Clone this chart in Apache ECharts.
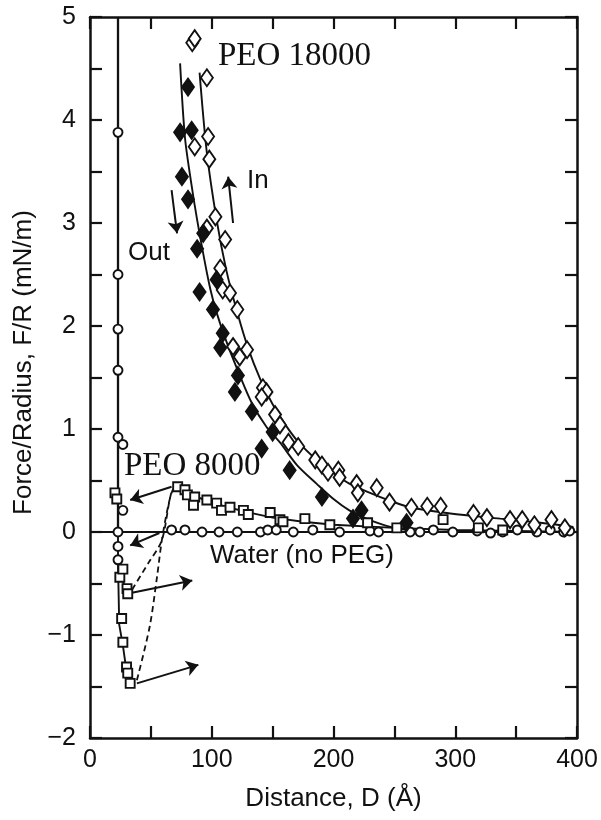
<!DOCTYPE html>
<html><head><meta charset="utf-8">
<script src="https://cdn.jsdelivr.net/npm/echarts@6/dist/echarts.min.js"></script>
<style>html,body{margin:0;padding:0;background:#fff}#c{width:601px;height:820px}</style>
</head><body><div id="c"></div>
<script>
// ---- data: [D (Å), F/R (mN/m)] ----
const xTicks = [0, 100, 200, 300, 400];
const yTicks = [-2, -1, 0, 1, 2, 3, 4, 5];

const waterPts = [[23,3.88],[23,2.5],[23,1.97],[23,1.57],[23,0.92],[27,0.85],[27,0.21],[23,0],[23,-0.14],[23,-0.27],
  [67,0.02],[78,0.02],[92,0.0],[106,0.0],[121,0.0],[140,0.0],[146,0.02],[153,0.02],[167,0.0],[183,0.02],[205,0.0],
  [230,0.01],[237,0.0],[263,0.0],[271,0.0],[282,0.02],[298,0.0],[318,0.01],[329,-0.01],[339,0.0],[351,0.02],
  [367,0.0],[378,0.02],[389,0.0],[394,0.01]];
const waterWall = [[23,5],[23,0]];
const waterFlat = [[0,0],[400,0]];

const peo8000Pts = [[20.5,0.38],[22,0.32],[24.5,-0.44],[27,-0.36],[30.4,-0.55],[31,-0.6],[26,-0.84],[27,-1.07],
  [30,-1.31],[31,-1.37],[33,-1.47],[72,0.44],[78,0.41],[80,0.36],[86,0.34],[85,0.26],[96,0.31],[104,0.28],[108,0.21],
  [115,0.24],[126,0.21],[130,0.17],[148,0.19],[156,0.12],[158.5,0.1],[176.5,0.13],[197,0.07],[228,0.09],[252,0.04],
  [290,0.12],[319,0.04],[339,0.02]];
const peo8000Line = [[72,0.44],[90,0.33],[110,0.25],[130,0.19],[150,0.14],[175,0.1],[200,0.07],[250,0.04],[300,0.02],[350,0.01],[400,0.0]];
const peo8000Wall = [[23,0.45],[23,-0.3],[24,-0.9],[27,-1.1],[30,-1.35],[33,-1.5]];
const peo8000Shallow = [[23,-0.3],[26,-0.45],[31,-0.6]];
const jumpShallow = [[34.5,-0.56],[48,-0.3],[59,-0.08],[67,0.39],[72,0.44]];
const jumpDeep = [[38.5,-1.44],[49,-0.92],[55,-0.44],[59,-0.08],[64,0.24],[68,0.41],[72,0.44]];

const peo18000In = [[84,4.75],[86,4.79],[96,4.41],[97,3.84],[86,3.74],[98,3.62],[103,3.06],[96,2.95],[111,2.84],
  [107,2.56],[109,2.35],[115,2.32],[121,2.16],[117.5,1.8],[129,1.77],[123,1.7],[142,1.4],[145,1.36],[141,1.31],
  [152,1.14],[156,1.04],[163,0.87],[171,0.83],[185,0.7],[190.5,0.65],[195.5,0.58],[204,0.6],[205,0.53],[219,0.47],
  [220,0.38],[235.5,0.43],[246,0.29],[264,0.24],[277,0.25],[288,0.25],[315,0.18],[326,0.14],[345,0.12],[355,0.12],
  [365,0.07],[379,0.12],[390,0.04]];
const peo18000Out = [[80.5,4.32],[74,3.88],[83.5,3.9],[75.5,3.45],[80.5,3.23],[93,2.9],[88,2.75],[104,2.45],[90,2.33],
  [101,2.16],[109,1.93],[107,1.79],[121.5,1.52],[119,1.36],[133,1.17],[141,0.81],[150,0.97],[164,0.6],[190.5,0.34],
  [216,0.13],[223,0.21],[260,0.09]];
const inCurve = [[90,4.46],[96,3.68],[104,3.03],[112,2.54],[121,2.13],[130,1.78],[140,1.48],[150,1.24],[160,1.05],
  [170,0.89],[186,0.7],[200,0.57],[213,0.47],[230,0.38],[245,0.31],[263,0.24],[296,0.18],[337,0.13],[370,0.09],[397,0.05]];
const outCurve = [[74,4.55],[78,3.83],[83,3.4],[88,3.03],[94,2.64],[99,2.35],[104,2.13],[112,1.85],[122,1.55],[133,1.25],
  [145,1.02],[156,0.87],[170,0.65],[186,0.47],[200,0.32],[213,0.21],[227,0.13],[241,0.07],[255,0.03],[265,0.01]];

const arrows = [
  [[67,0.44],[33,0.31]],
  [[57,-0.01],[33,-0.13]],
  [[34.5,-0.59],[84,-0.47]],
  [[38.5,-1.47],[89,-1.29]],
  [[67,3.32],[71.5,2.9]],
  [[117.5,3.0],[113.5,3.45]]
];

const labels = [
  {text:'PEO 18000', x:218, y:57, serif:true},
  {text:'In', x:247, y:182, serif:false},
  {text:'Out', x:128, y:254, serif:false},
  {text:'PEO 8000', x:124, y:467, serif:true},
  {text:'Water (no PEG)', x:210, y:557, serif:false}
];

// ---- chart ----
const INK = '#111';
const SANS = '"Liberation Sans", Arial, sans-serif';
const SERIF = '"Liberation Serif", "Times New Roman", serif';
const chart = echarts.init(document.getElementById('c'), null, {renderer:'canvas'});

function lineS(data, opts) {
  return Object.assign({type:'line', data, showSymbol:false, symbol:'none', silent:true,
    lineStyle:{color:INK, width:1.9}, z:2, animation:false}, opts || {});
}
function scatterS(data, symbol, size, filled) {
  return {type:'scatter', data, symbol, symbolSize:size, silent:true, animation:false, z:4,
    itemStyle:{color: filled ? INK : '#fff', borderColor:INK, borderWidth:1.9, opacity:1}};
}

const axisCommon = {
  axisLine:{show:true, onZero:false, lineStyle:{color:INK, width:2.5}},
  axisTick:{show:true, inside:true, length:12, lineStyle:{color:INK, width:2.2}},
  splitLine:{show:false}
};

chart.setOption({
  animation:false,
  backgroundColor:'#fff',
  grid:{left:90, right:24, top:17, bottom:82, containLabel:false},
  xAxis:[
    Object.assign({type:'value', min:0, max:400, interval:50, position:'bottom',
      name:'Distance, D (Å)', nameLocation:'middle', nameGap:48,
      nameTextStyle:{fontFamily:SANS, fontSize:26, color:INK},
      axisLabel:{fontFamily:SANS, fontSize:25, color:INK, margin:10,
        formatter:v => (xTicks.indexOf(v) >= 0 ? String(v) : '')}}, axisCommon),
    Object.assign({type:'value', min:0, max:400, interval:50, position:'top',
      axisLabel:{show:false}}, axisCommon)
  ],
  yAxis:[
    Object.assign({type:'value', min:-2, max:5, interval:0.5, position:'left',
      name:'Force/Radius, F/R (mN/m)', nameLocation:'middle', nameGap:52, nameRotate:90,
      nameTextStyle:{fontFamily:SANS, fontSize:26, color:INK, padding:[0,0,0,30]},
      axisLabel:{fontFamily:SANS, fontSize:25, color:INK, margin:14,
        formatter:v => (yTicks.indexOf(v) >= 0 ? String(v).replace('-', '\u2212') : '')}}, axisCommon),
    Object.assign({type:'value', min:-2, max:5, interval:0.5, position:'right',
      axisLabel:{show:false}}, axisCommon)
  ],
  series:[
    lineS(waterFlat),
    lineS(waterWall, {lineStyle:{color:INK, width:2.3}}),
    lineS(peo8000Line),
    lineS(peo8000Wall),
    lineS(peo8000Shallow),
    lineS(jumpShallow, {smooth:0.3, lineStyle:{color:INK, width:1.8, type:[6,4]}}),
    lineS(jumpDeep, {smooth:0.3, lineStyle:{color:INK, width:1.8, type:[6,4]}}),
    lineS(inCurve, {smooth:0.3}),
    lineS(outCurve, {smooth:0.3}),
    {type:'lines', coordinateSystem:'cartesian2d', silent:true, animation:false, z:3,
      symbol:['none','arrow'], symbolSize:12,
      lineStyle:{color:INK, width:2, opacity:1},
      data: arrows.map(a => ({coords:a}))},
    scatterS(waterPts, 'circle', 9, false),
    scatterS(peo8000Pts, 'rect', 9, false),
    scatterS(peo18000In, 'diamond', [12,17], false),
    scatterS(peo18000Out, 'diamond', [12,17], true)
  ],
  graphic: labels.map(l => ({type:'text', left:l.x, top:l.y - (l.serif ? 17 : 14), silent:true, z:10,
    style:{text:l.text, fill:INK, font: (l.serif ? '33px ' + SERIF : '26px ' + SANS)}}))
});
</script></body></html>
